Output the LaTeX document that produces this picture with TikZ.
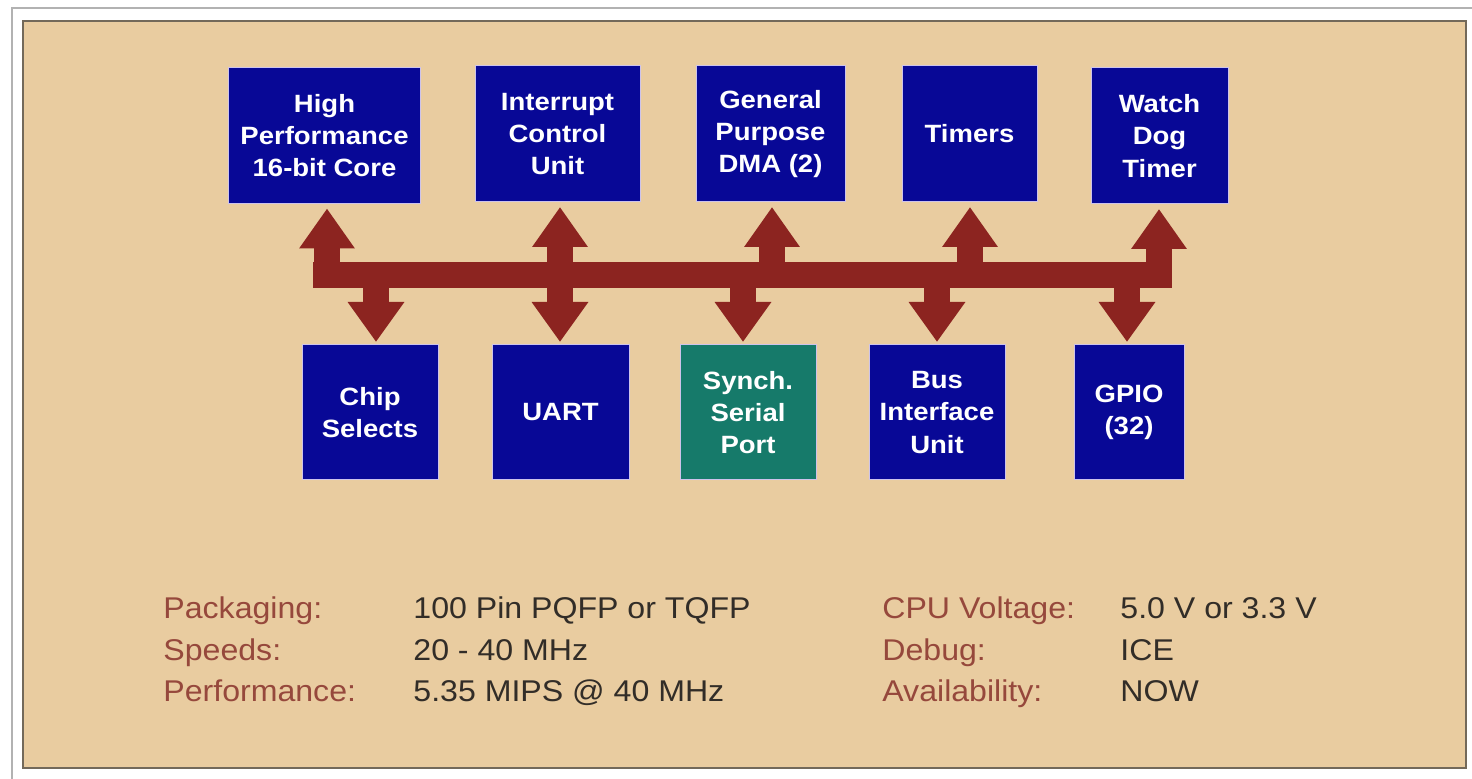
\documentclass[tikz,border=0pt]{standalone}
\usepackage{fontspec}
\setmainfont{Liberation Sans}
\newfontfamily\boxfont[FakeStretch=1.1]{Liberation Sans}
\newfontfamily\infofont[FakeStretch=1.07]{Liberation Sans}
\usetikzlibrary{arrows.meta}
\definecolor{tanbg}{RGB}{233,204,160}
\definecolor{navy}{RGB}{8,8,150}
\definecolor{tealbox}{RGB}{22,122,106}
\definecolor{busred}{RGB}{140,36,32}
\definecolor{labred}{RGB}{150,72,60}
\definecolor{valgray}{RGB}{50,45,40}
\definecolor{framec}{RGB}{115,105,90}
\definecolor{edgec}{RGB}{205,195,235}
\tikzset{
  blk/.style={fill=navy, draw=edgec, line width=0.5pt, inner sep=0pt, outer sep=0pt,
    text=white, align=center, font=\boxfont\bfseries\fontsize{12.5pt}{16.2pt}\selectfont},
  tealblk/.style={blk, fill=tealbox},
  busline/.style={draw=busred, line width=13pt, line cap=butt},
  busup/.style={draw=busred, line width=13pt, line cap=butt,
    -{Triangle[width=26.5pt,length=20pt]}, shorten >=2.5pt},
  busdown/.style={draw=busred, line width=13pt, line cap=butt,
    -{Triangle[width=27pt,length=20pt]}, shorten >=1.5pt},
  lab/.style={anchor=base west, inner sep=0pt, text=labred, font=\infofont\fontsize{15pt}{17pt}\selectfont},
  val/.style={anchor=base west, inner sep=0pt, text=valgray, font=\infofont\fontsize{15pt}{17pt}\selectfont}
}
\begin{document}
\begin{tikzpicture}[x=0.5pt,y=-0.5pt]
\useasboundingbox (0,0) rectangle (1472,779);
\fill[white] (0,0) rectangle (1472,779);
% outer thin frame
\draw[gray!60, line width=0.6pt] (12,779) -- (12,8) -- (1472,8);
% tan panel
\fill[tanbg] (23,21) rectangle (1466,768);
\draw[framec, line width=1.3pt] (23,21) rectangle (1466,768);

% top row
\node[blk, minimum width=96pt, minimum height=68pt] (core) at (324.5,135.5) {High\\Performance\\16-bit Core};
\node[blk, minimum width=82.5pt, minimum height=68pt] (intr) at (557.5,134) {Interrupt\\Control\\Unit};
\node[blk, minimum width=74.5pt, minimum height=68pt] (dma) at (770.5,134) {General\\Purpose\\DMA (2)};
\node[blk, minimum width=67.5pt, minimum height=68pt] (timers) at (969.5,134) {Timers};
\node[blk, minimum width=68.5pt, minimum height=68pt] (wdog) at (1159.5,136) {Watch\\Dog\\Timer};

% bottom row
\node[blk, minimum width=68pt, minimum height=67.5pt] (chip) at (370,412.5) {Chip\\Selects};
\node[blk, minimum width=68.5pt, minimum height=67.5pt] (uart) at (560.5,412.5) {UART};
\node[tealblk, minimum width=68pt, minimum height=67.5pt] (ssp) at (748,412.5) {Synch.\\Serial\\Port};
\node[blk, minimum width=68pt, minimum height=67.5pt] (biu) at (937,412.5) {Bus\\Interface\\Unit};
\node[blk, minimum width=55pt, minimum height=67.5pt] (gpio) at (1129,412.5) {GPIO\\(32)};

% bus
\coordinate (busL) at (313,275);
\coordinate (busR) at (1172,275);
\draw[busline] (busL) -- (busR);

% up arrows
\coordinate (u1) at (327,275);
\coordinate (u2) at (560,275);
\coordinate (u3) at (772,275);
\coordinate (u4) at (970,275);
\coordinate (u5) at (1159,275);
\draw[busup] (u1) -- (u1 |- core.south);
\draw[busup] (u2) -- (u2 |- intr.south);
\draw[busup] (u3) -- (u3 |- dma.south);
\draw[busup] (u4) -- (u4 |- timers.south);
\draw[busup] (u5) -- (u5 |- wdog.south);

% down arrows
\coordinate (d1) at (376,275);
\coordinate (d2) at (560,275);
\coordinate (d3) at (743,275);
\coordinate (d4) at (937,275);
\coordinate (d5) at (1127,275);
\draw[busdown] (d1) -- (d1 |- chip.north);
\draw[busdown] (d2) -- (d2 |- uart.north);
\draw[busdown] (d3) -- (d3 |- ssp.north);
\draw[busdown] (d4) -- (d4 |- biu.north);
\draw[busdown] (d5) -- (d5 |- gpio.north);

% info text
\node[lab] (l1) at (163,619) {Packaging:};
\node[lab] (l2) at (163,661) {Speeds:};
\node[lab] (l3) at (163,702) {Performance:};
\node[val] (v1) at (413,619) {100 Pin PQFP or TQFP};
\node[val] (v2) at (413,661) {20 - 40 MHz};
\node[val] (v3) at (413,702) {5.35 MIPS @ 40 MHz};
\node[lab] (l4) at (882,619) {CPU Voltage:};
\node[lab] (l5) at (882,661) {Debug:};
\node[lab] (l6) at (882,702) {Availability:};
\node[val] (v4) at (1120,619) {5.0 V or 3.3 V};
\node[val] (v5) at (1120,661) {ICE};
\node[val] (v6) at (1120,702) {NOW};
\end{tikzpicture}
\end{document}
